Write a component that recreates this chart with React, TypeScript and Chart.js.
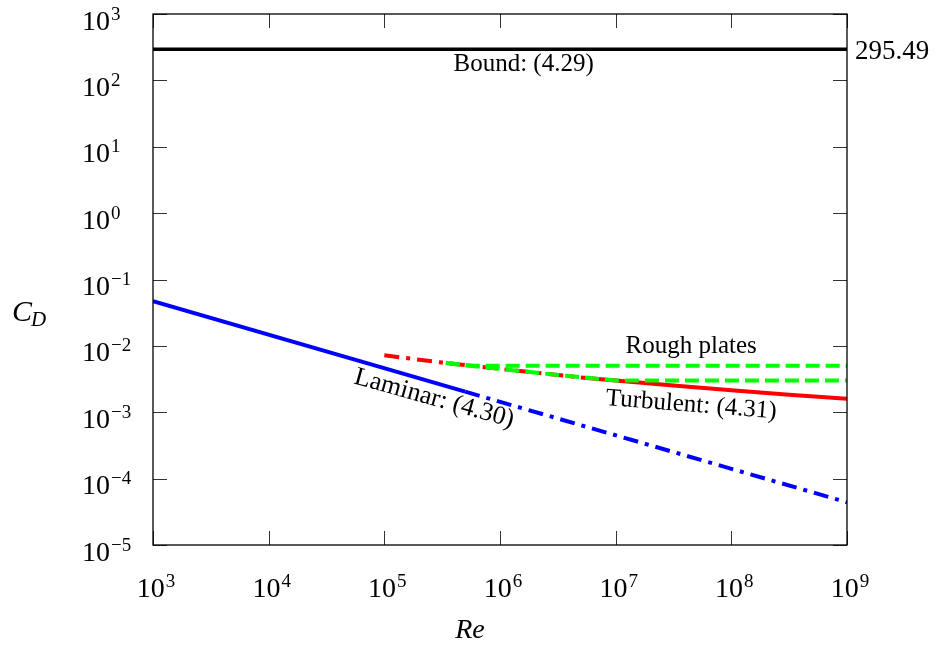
import { useEffect, useRef } from "react";
import { Chart, registerables } from "chart.js";

Chart.register(...registerables);

// ---- data ----
const xTickExponents = [3, 4, 5, 6, 7, 8, 9];
const yTickExponents = [-5, -4, -3, -2, -1, 0, 1, 2, 3];

const boundRe = [1e3, 1e9];
const boundCd = [295.49, 295.49];
const boundValueLabel = "295.49";

const laminarSolidRe = [1e3, 5e5];
const laminarSolidCd = [0.047, 2.04e-3];
const laminarDashRe = [5e5, 1e9];
const laminarDashCd = [2.04e-3, 4.4e-5];

const turbDashRe = [1e5, 3.16e5, 1e6, 3.16e6, 5e6];
const turbDashCd = [7.2e-3, 5.6e-3, 4.5e-3, 3.65e-3, 3.35e-3];
const turbSolidRe = [5e6, 1e7, 3.16e7, 1e8, 3.16e8, 1e9];
const turbSolidCd = [3.35e-3, 3.0e-3, 2.52e-3, 2.15e-3, 1.84e-3, 1.6e-3];

const roughUpperRe = [3.4e5, 5.7e5, 1e9];
const roughUpperCd = [5.5e-3, 5.0e-3, 5.0e-3];
const roughLowerRe = [3.4e5, 1e6, 3.16e6, 1e7, 1e9];
const roughLowerCd = [5.5e-3, 4.5e-3, 3.65e-3, 3.0e-3, 3.0e-3];

const labelBound = "Bound: (4.29)";
const labelLaminar = "Laminar: (4.30)";
const labelTurbulent = "Turbulent: (4.31)";
const labelRough = "Rough plates";

const pts = (xs: number[], ys: number[]) => xs.map((x, i) => ({ x, y: ys[i] }));

const FONT = '"Liberation Serif", "Times New Roman", serif';

function drawPow(ctx: CanvasRenderingContext2D, x: number, baseline: number, exp: number, align: "left" | "center") {
  const base = "10";
  const expStr = exp < 0 ? "\u2212" + Math.abs(exp) : String(exp);
  ctx.font = `28px ${FONT}`;
  const wb = ctx.measureText(base).width;
  ctx.font = `19px ${FONT}`;
  const we = ctx.measureText(expStr).width;
  const total = wb + we + 1;
  const left = align === "left" ? x : x - total / 2;
  ctx.textAlign = "left";
  ctx.textBaseline = "alphabetic";
  ctx.font = `28px ${FONT}`;
  ctx.fillText(base, left, baseline);
  ctx.font = `19px ${FONT}`;
  ctx.fillText(expStr, left + wb + 1, baseline - 10);
}

const decor = {
  id: "decor",
  afterDatasetsDraw(chart: any) {
    const { ctx, chartArea: a, scales } = chart;
    const xs = scales.x;
    const ys = scales.y;
    ctx.save();
    // tick marks (inward, all four sides)
    ctx.strokeStyle = "#333";
    ctx.lineWidth = 1;
    ctx.beginPath();
    for (const e of xTickExponents) {
      const px = Math.round(xs.getPixelForValue(Math.pow(10, e))) + 0.5;
      ctx.moveTo(px, a.bottom);
      ctx.lineTo(px, a.bottom - 14);
      ctx.moveTo(px, a.top);
      ctx.lineTo(px, a.top + 14);
    }
    for (const e of yTickExponents) {
      const py = Math.round(ys.getPixelForValue(Math.pow(10, e))) + 0.5;
      ctx.moveTo(a.left, py);
      ctx.lineTo(a.left + 14, py);
      ctx.moveTo(a.right, py);
      ctx.lineTo(a.right - 14, py);
    }
    ctx.stroke();
    // frame
    ctx.strokeStyle = "#000";
    ctx.lineWidth = 1.3;
    ctx.strokeRect(a.left, a.top, a.right - a.left, a.bottom - a.top);

    ctx.fillStyle = "#000";
    // tick labels
    for (const e of xTickExponents) {
      const px = xs.getPixelForValue(Math.pow(10, e));
      drawPow(ctx, px + 3, a.bottom + 52, e, "center");
    }
    for (const e of yTickExponents) {
      const py = ys.getPixelForValue(Math.pow(10, e));
      drawPow(ctx, 82, py + 15.5, e, "left");
    }

    // axis titles
    ctx.textBaseline = "alphabetic";
    ctx.textAlign = "center";
    ctx.font = `italic 28px ${FONT}`;
    ctx.fillText("Re", (a.left + a.right) / 2 - 30, a.bottom + 93);
    ctx.textAlign = "left";
    ctx.font = `italic 30px ${FONT}`;
    ctx.fillText("C", 12, 321);
    const wc = ctx.measureText("C").width;
    ctx.font = `italic 21px ${FONT}`;
    ctx.fillText("D", 12 + wc - 1, 326);

    // bound value label
    const yb = ys.getPixelForValue(boundCd[0]);
    ctx.font = `27px ${FONT}`;
    ctx.textAlign = "left";
    ctx.fillText(boundValueLabel, a.right + 8, yb + 10);

    // annotations
    ctx.font = `25px ${FONT}`;
    ctx.textAlign = "center";
    ctx.fillText(labelBound, xs.getPixelForValue(1.6e6), yb + 22);
    ctx.fillText(labelRough, xs.getPixelForValue(4.5e7), ys.getPixelForValue(roughUpperCd[2]) - 13);

    // laminar (rotated along the line)
    const lx0 = xs.getPixelForValue(laminarSolidRe[0]);
    const ly0 = ys.getPixelForValue(laminarSolidCd[0]);
    const lx1 = xs.getPixelForValue(laminarDashRe[1]);
    const ly1 = ys.getPixelForValue(laminarDashCd[1]);
    const angL = Math.atan2(ly1 - ly0, lx1 - lx0) - 0.01;
    ctx.save();
    ctx.translate(xs.getPixelForValue(2.7e5), ys.getPixelForValue(1.6e-3));
    ctx.rotate(angL);
    ctx.textBaseline = "middle";
    ctx.font = `26px ${FONT}`;
    ctx.fillText(labelLaminar, 0, 0);
    ctx.restore();

    // turbulent
    const tx0 = xs.getPixelForValue(turbSolidRe[2]);
    const ty0 = ys.getPixelForValue(turbSolidCd[2]);
    const tx1 = xs.getPixelForValue(turbSolidRe[4]);
    const ty1 = ys.getPixelForValue(turbSolidCd[4]);
    const angT = Math.atan2(ty1 - ty0, tx1 - tx0);
    ctx.save();
    ctx.translate(xs.getPixelForValue(4.5e7), ys.getPixelForValue(1.28e-3));
    ctx.rotate(angT);
    ctx.textBaseline = "middle";
    ctx.fillText(labelTurbulent, 0, 0);
    ctx.restore();

    ctx.restore();
  },
};

export default function App() {
  const ref = useRef<HTMLCanvasElement | null>(null);
  useEffect(() => {
    if (!ref.current) return;
    const blue = "#0000ff";
    const red = "#ff0000";
    const green = "#00ff00";
    const common = { pointRadius: 0, fill: false, tension: 0, borderCapStyle: "butt" as const };
    const chart = new Chart(ref.current, {
      type: "line",
      data: {
        datasets: [
          { ...common, label: "bound", data: pts(boundRe, boundCd), borderColor: "#000", borderWidth: 3.5, order: 4 },
          { ...common, label: "laminar", data: pts(laminarSolidRe, laminarSolidCd), borderColor: blue, borderWidth: 4, order: 3 },
          { ...common, label: "laminar ext", data: pts(laminarDashRe, laminarDashCd), borderColor: blue, borderWidth: 4, borderDash: [15, 7, 4, 7], order: 3 },
          { ...common, label: "turbulent ext", data: pts(turbDashRe, turbDashCd), borderColor: red, borderWidth: 4, borderDash: [15, 7, 4, 7], order: 2 },
          { ...common, label: "turbulent", data: pts(turbSolidRe, turbSolidCd), borderColor: red, borderWidth: 4, order: 2 },
          { ...common, label: "rough 1", data: pts(roughUpperRe, roughUpperCd), borderColor: green, borderWidth: 4, borderDash: [14, 6], order: 1 },
          { ...common, label: "rough 2", data: pts(roughLowerRe, roughLowerCd), borderColor: green, borderWidth: 4, borderDash: [14, 6], order: 1 },
        ],
      },
      options: {
        animation: false,
        responsive: false,
        parsing: true,
        layout: { padding: { left: 153, right: 93, top: 14, bottom: 100 } },
        plugins: { legend: { display: false }, tooltip: { enabled: false } },
        scales: {
          x: { type: "logarithmic", min: 1e3, max: 1e9, display: false },
          y: { type: "logarithmic", min: 1e-5, max: 1e3, display: false },
        },
      },
      plugins: [decor],
    });
    return () => chart.destroy();
  }, []);
  return (
    <div style={{ position: "absolute", left: 0, top: 0, width: 940, height: 645, background: "#fff" }}>
      <canvas ref={ref} width={940} height={645} style={{ display: "block" }} />
    </div>
  );
}
